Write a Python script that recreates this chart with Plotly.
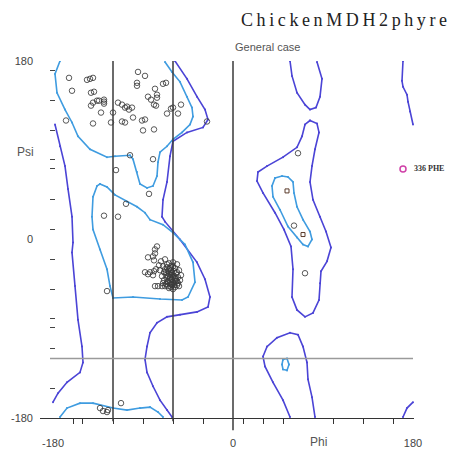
import plotly.graph_objects as go

# ---------------- data (phi, psi in degrees) ----------------
upper_sheet_pts = [(-164,163),(-161,150),(-146,161),(-143,162),(-140,163),(-142,148),(-139,149),
    (-142,135),(-140,138),(-136,140),(-134,140),(-129,141),(-129,139),(-129,137),(-132,128),
    (-120,128),(-115,138),(-111,136),(-108,133),(-106,134),(-104,131),(-101,133),(-140,117),
    (-167,120),(-122,118),(-111,119),(-108,118),(-100,123),(-95,169),(-88,165),(-96,158),
    (-96,155),(-78,152),(-76,146),(-76,143),(-85,144),(-82,141),(-79,136),(-77,135),(-70,157),
    (-67,158),(-66,127),(-62,132),(-60,133),(-52,136),(-55,127),(-91,120),(-88,121),(-90,110),
    (-79,111),(-26,119)]
bridge_pts = [(-103,85),(-80,81),(-117,70),(-84,46),(-107,36),(-129,24),(-115,23),(-76,-7)]
alpha_pts = [(-78,-10),(-78,-14),(-85,-18),(-80,-17),(-79,-21),(-88,-33),(-85,-35),(-83,-33),
    (-80,-36),(-79,-32),(-77,-30),(-126,-52),(-78,-47),(-75,-47),(-71,-47),(-68,-47),(-65,-47),
    (-61,-46),(-56,-46),(-72,-22),(-68,-20),(-64,-24),(-70,-27),(-66,-28),(-62,-27),(-58,-29),
    (-73,-31),(-69,-33),(-65,-32),(-61,-33),(-57,-34),(-54,-31),(-71,-37),(-67,-36),(-63,-38),
    (-59,-37),(-55,-38),(-52,-36),(-69,-41),(-65,-42),(-61,-40),(-57,-42),(-53,-41),(-67,-45),
    (-63,-44),(-59,-46),(-55,-44),(-60,-50),(-64,-49),(-66,-25),(-60,-23),(-74,-26),(-56,-25),
    (-62,-31),(-58,-39),(-64,-35),(-70,-44),(-54,-47),(-62,-48),(-66,-39),(-60,-43),(-68,-30),
    (-56,-33),(-63,-29),(-59,-32),(-65,-37),(-61,-36),(-57,-40),(-63,-41),(-59,-44),(-66,-43),
    (-62,-45),(-58,-48),(-64,-30),(-60,-38),(-62,-34),(-56,-42),(-67,-33),(-60,-27)]
bottom_pts = [(-133,-170),(-130,-173),(-126,-174),(-125,-172),(-112,-165)]
left_handed_pts = [(65,87),(61,14),(72,-34)]
square_pts = [(54,49),(70,5)]

# contour paths
core_upper = [(-173,180),(-178,167),(-176,148),(-168,131),(-161,118),(-155,104),(-143,91),(-126,83),
    (-118,84),(-103,85),(-100,81),(-96,68),(-93,56),(-86,52),(-80,54),(-76,64),(-75,78),(-73,88),
    (-66,94),(-60,101),(-51,108),(-43,116),(-40,124),(-41,133),(-46,144),(-53,159),(-61,169),(-68,179)]
core_bottom = [(-173,-179),(-166,-170),(-153,-165),(-140,-165),(-120,-170),(-106,-172),(-93,-170),
    (-83,-169),(-75,-174),(-70,-179)]
core_alpha = [(-133,56),(-126,53),(-118,45),(-106,38),(-96,33),(-88,27),(-83,20),(-70,15),(-60,7),
    (-48,-5),(-40,-23),(-38,-43),(-45,-58),(-51,-61),(-73,-60),(-100,-58),(-120,-59),(-123,-47),
    (-126,-30),(-133,-10),(-140,10),(-141,23),(-140,43),(-136,54),(-133,56)]
core_left_handed = [(42,62),(49,64),(55,63),(60,58),(61,47),(64,33),(70,20),(77,8),(79,0),(75,-7),
    (70,-5),(64,2),(55,13),(47,30),(40,43),(39,54),(42,62)]
core_small = [(50,-121),(54,-120),(56,-126),(54,-132),(50,-131),(49,-126),(50,-121)]

allowed_right = [(-58,180),(-46,162),(-36,144),(-28,131),(-25,121),(-30,113),(-46,108),(-60,99),
    (-63,84),(-66,58),(-70,40),(-71,23),(-68,18),(-53,0),(-36,-23),(-28,-40),(-23,-58),(-25,-68),
    (-36,-73),(-53,-76),(-66,-78),(-76,-84),(-83,-94),(-86,-108),(-88,-121),(-86,-134),(-80,-148),
    (-73,-162),(-66,-172),(-61,-179)]
allowed_left = [(-178,116),(-173,94),(-168,74),(-165,51),(-161,23),(-160,-3),(-161,-13),(-158,-47),
    (-155,-81),(-151,-108),(-150,-124),(-153,-134),(-166,-144),(-175,-155),(-180,-164)]
allowed_top_u = [(57,180),(59,165),(64,148),(72,136),(77,131),(83,133),(87,144),(89,162),(84,179)]
allowed_bottom_loop = [(57,-179),(50,-162),(40,-144),(32,-128),(30,-118),(34,-108),(44,-99),(57,-94),
    (65,-96),(70,-108),(74,-124),(75,-141),(79,-159),(82,-179)]
allowed_left_handed = [(77,120),(84,117),(86,108),(82,91),(79,74),(77,58),(80,40),(87,23),(93,8),
    (98,-8),(94,-22),(88,-32),(87,-44),(86,-61),(80,-74),(72,-78),(64,-71),(59,-58),(60,-30),
    (58,-7),(51,10),(42,27),(30,47),(24,59),(25,68),(34,74),(50,83),(64,93),(69,104),(72,116),(77,120)]
allowed_edge_top = [(170,180),(169,160),(170,154),(174,146),(175,139),(177,129),(180,116)]
allowed_edge_bottom = [(170,-179),(174,-170),(180,-164)]

core_contours = [core_upper, core_bottom, core_alpha, core_left_handed, core_small]
allowed_contours = [allowed_right, allowed_left, allowed_top_u, allowed_bottom_loop,
                    allowed_left_handed, allowed_edge_top, allowed_edge_bottom]

phi_lines = [-120, -60, 0]
psi_lines = [-120]
x_tick_vals = [-160, -151, -120, -90, -60, -30, 10, 30, 50, 100, 130, 160]
y_tick_vals = [170, 140, 110, 81, 72, 40, 10, -20, -50, -80, -89, -110, -150]
axis_labels = [-180, 0, 180]
outlier_label = "336 PHE"
title_text = "ChickenMDH2phyre"

CORE = "#3f9ce0"
ALLOWED = "#4b44d6"

fig = go.Figure()

def add_path(path, color):
    fig.add_trace(go.Scatter(x=[p[0] for p in path], y=[p[1] for p in path], mode="lines+markers",
                             line=dict(color=color, width=1.6), marker=dict(size=2, color=color),
                             showlegend=False, hoverinfo="skip"))

for c in allowed_contours:
    add_path(c, ALLOWED)
for c in core_contours:
    add_path(c, CORE)

# reference lines (the phi lines run slightly past the bottom axis)
line_bottom = {-120: -0.009, -60: -0.009, 0: -0.034}
for v in phi_lines:
    fig.add_shape(type="line", x0=v, x1=v, y0=line_bottom[v], y1=1.0, xref="x", yref="paper",
                  line=dict(color="#3a3a3a", width=1.5))
for h in psi_lines:
    fig.add_shape(type="line", x0=-183, x1=180, y0=h, y1=h, xref="x", yref="y",
                  line=dict(color="#9a9a9a", width=1.5))

pts = upper_sheet_pts + bridge_pts + alpha_pts + bottom_pts + left_handed_pts
fig.add_trace(go.Scatter(x=[p[0] for p in pts], y=[p[1] for p in pts], mode="markers",
                         marker=dict(symbol="circle-open", size=5.5, color="rgba(60,60,60,0.85)",
                                     line=dict(width=1)), showlegend=False))
fig.add_trace(go.Scatter(x=[p[0] for p in square_pts], y=[p[1] for p in square_pts], mode="markers",
                         marker=dict(symbol="square-open", size=4, color="#5a3a2a",
                                     line=dict(width=1)), showlegend=False))

# key swatch for the labelled residue, on a paper-fraction overlay axis
fig.add_trace(go.Scatter(x=[0.9706], y=[0.6975], xaxis="x3", yaxis="y3", mode="markers",
                         marker=dict(symbol="circle-open", size=6, color="#d040a8", line=dict(width=1.5)),
                         showlegend=False, hoverinfo="skip"))

fig.update_layout(
    width=460, height=449, margin=dict(l=40, r=46, t=61, b=31, autoexpand=False),
    paper_bgcolor="white", plot_bgcolor="white", showlegend=False,
    font=dict(family="Liberation Sans, Arial", size=11, color="#444"),
    xaxis=dict(range=[-193, 181], showgrid=False, zeroline=False, showline=True, linecolor="#333",
               linewidth=1.2, tickvals=axis_labels, ticktext=[str(v) for v in axis_labels],
               ticks="", ticklabelstandoff=15, automargin=False, tickfont=dict(size=11, color="#444")),
    xaxis2=dict(range=[-193, 181], overlaying="x", anchor="y", side="bottom", showgrid=False,
                zeroline=False, showline=False, tickvals=x_tick_vals, ticks="outside", ticklen=5,
                tickcolor="#333", showticklabels=False, automargin=False),
    xaxis3=dict(range=[0, 1], overlaying="x", anchor="y3", visible=False),
    yaxis=dict(range=[-180, 180], showgrid=False, zeroline=False, showline=False,
               tickvals=axis_labels, ticktext=[str(v) for v in axis_labels], ticks="",
               ticklabelstandoff=6, automargin=False, tickfont=dict(size=11, color="#444")),
    yaxis2=dict(range=[-180, 180], overlaying="y", anchor="free", position=0.040, side="left",
                showgrid=False, zeroline=False, showline=False, tickvals=y_tick_vals,
                ticks="outside", ticklen=5, tickcolor="#444", showticklabels=False, automargin=False),
    yaxis3=dict(range=[0, 1], overlaying="y", anchor="x3", visible=False),
)
# dummy trace to activate the tick-only axes
fig.add_trace(go.Scatter(x=[None], y=[None], xaxis="x2", yaxis="y2", showlegend=False))

fig.add_annotation(text="\u2009".join(title_text), xref="paper", yref="paper", x=0.813, y=1.115,
                   showarrow=False, xanchor="center", yanchor="middle",
                   font=dict(family="Liberation Serif", size=18, color="#222"))
fig.add_annotation(text="General case", xref="x", yref="paper", x=0, y=1.039, showarrow=False,
                   xanchor="left", yanchor="middle", font=dict(size=11, color="#555"))
fig.add_annotation(text="Phi", xref="x", yref="paper", x=85, y=-0.068, showarrow=False,
                   xanchor="center", yanchor="middle", font=dict(size=12, color="#555"))
fig.add_annotation(text="Psi", xref="paper", yref="paper", x=-0.04, y=0.745, showarrow=False,
                   xanchor="center", yanchor="middle", font=dict(size=12, color="#555"))
fig.add_annotation(text="<b>" + outlier_label + "</b>", xref="paper", yref="paper", x=0.994, y=0.6975,
                   showarrow=False, xanchor="left", yanchor="middle",
                   font=dict(family="Liberation Serif", size=8, color="#333"))

fig.write_html("out.html")
